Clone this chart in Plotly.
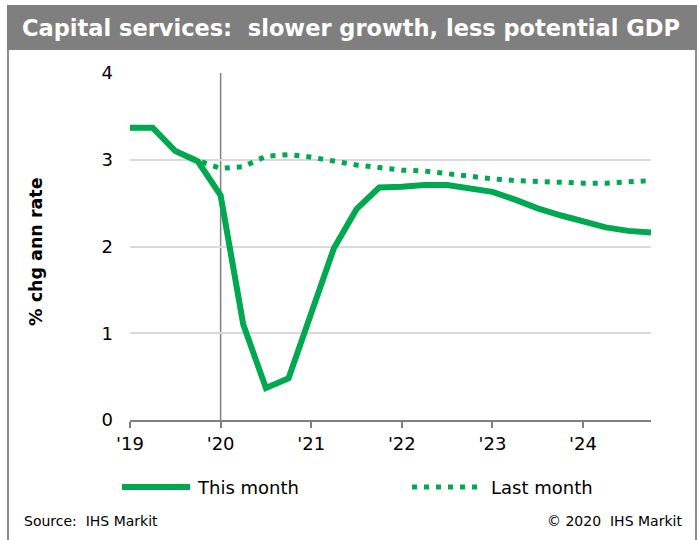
import plotly.graph_objects as go

# Quarterly periods, 2019Q1 .. 2024Q4, as fractional years
years = [2019, 2020, 2021, 2022, 2023, 2024]
quarters = [y + q / 4 for y in years for q in range(4)]

# Capital services, % change at annual rate
this_month = [3.37, 3.37, 3.10, 2.98, 2.59, 1.10, 0.37, 0.48,
              1.23, 1.98, 2.43, 2.68, 2.69, 2.71, 2.71, 2.67,
              2.63, 2.54, 2.44, 2.36, 2.29, 2.22, 2.18, 2.16]
last_month = [3.37, 3.37, 3.10, 2.99, 2.90, 2.92, 3.04, 3.06,
              3.03, 2.98, 2.94, 2.91, 2.88, 2.87, 2.84, 2.80,
              2.78, 2.76, 2.75, 2.73, 2.73, 2.73, 2.74, 2.76]

tick_vals = years
tick_text = ["'19", "'20", "'21", "'22", "'23", "'24"]
y_ticks = [0, 1, 2, 3, 4]

GREEN = "#00A84F"
GRID = "#D9D9D9"
AXIS = "#808080"
FONT = "DejaVu Sans, Liberation Sans, Arial, sans-serif"
DOT_DASH = "5px,7px"

W, H = 699, 540
L, R, T, B = 130, 48, 73, 120
PW, PH = W - L - R, H - T - B


def px(x):
    return (x - L) / PW


def py(y):
    return (H - B - y) / PH


fig = go.Figure()
fig.add_trace(go.Scatter(x=quarters, y=last_month, mode="lines", name="Last month",
                         line=dict(color=GREEN, width=5, dash=DOT_DASH)))
fig.add_trace(go.Scatter(x=quarters, y=this_month, mode="lines", name="This month",
                         line=dict(color=GREEN, width=6)))

shapes = [
    # marker for the start of 2020
    dict(type="line", xref="x", yref="y", x0=2020, x1=2020, y0=0, y1=4,
         line=dict(color=AXIS, width=1.5), layer="below"),
    # outer frame
    dict(type="line", xref="paper", yref="paper", x0=px(8), x1=px(8), y0=py(5), y1=py(545),
         line=dict(color="#8C8C8C", width=2)),
    dict(type="line", xref="paper", yref="paper", x0=px(696), x1=px(696), y0=py(5), y1=py(545),
         line=dict(color="#8C8C8C", width=2)),
    # title band
    dict(type="rect", xref="paper", yref="paper", x0=px(7), x1=px(697), y0=py(50), y1=py(5),
         fillcolor="#7F7F7F", line=dict(width=0)),
    # legend samples
    dict(type="line", xref="paper", yref="paper", x0=px(122), x1=px(190), y0=py(487), y1=py(487),
         line=dict(color=GREEN, width=6)),
    dict(type="line", xref="paper", yref="paper", x0=px(412), x1=px(480), y0=py(487), y1=py(487),
         line=dict(color=GREEN, width=5, dash=DOT_DASH)),
]

annotations = [
    dict(text="Capital services:  slower growth, less potential GDP", xref="paper", yref="paper",
         x=px(20), y=py(28), xanchor="left", yanchor="middle", showarrow=False,
         font=dict(family=FONT, size=22.5, color="white", weight="bold")),
    dict(text="% chg ann rate", xref="paper", yref="paper", x=px(36), y=py(252),
         xanchor="center", yanchor="middle", textangle=-90, showarrow=False,
         font=dict(family=FONT, size=17.5, color="black", weight="bold")),
    dict(text="This month", xref="paper", yref="paper", x=px(195), y=py(487),
         xanchor="left", yanchor="middle", showarrow=False,
         font=dict(family=FONT, size=18, color="black")),
    dict(text="Last month", xref="paper", yref="paper", x=px(489), y=py(487),
         xanchor="left", yanchor="middle", showarrow=False,
         font=dict(family=FONT, size=18, color="black")),
    dict(text="Source:  IHS Markit", xref="paper", yref="paper", x=px(22), y=py(521),
         xanchor="left", yanchor="middle", showarrow=False,
         font=dict(family=FONT, size=14, color="black")),
    dict(text="© 2020  IHS Markit", xref="paper", yref="paper", x=px(684), y=py(521),
         xanchor="right", yanchor="middle", showarrow=False,
         font=dict(family=FONT, size=14, color="black")),
]

fig.update_layout(
    width=W, height=H,
    margin=dict(l=L, r=R, t=T, b=B),
    paper_bgcolor="white", plot_bgcolor="white",
    showlegend=False,
    font=dict(family=FONT, size=18, color="black"),
    shapes=shapes, annotations=annotations,
    xaxis=dict(range=[2019, 2024.75], tickvals=tick_vals, ticktext=tick_text,
               showgrid=False, zeroline=False, showline=True, linecolor=AXIS, linewidth=2,
               ticks="outside", ticklen=6, tickwidth=2, tickcolor=AXIS,
               tickfont=dict(size=18, color="black")),
    yaxis=dict(range=[0, 4], tickvals=y_ticks, showgrid=True, gridcolor=GRID, gridwidth=1.5,
               zeroline=False, showline=False, ticks="", ticklabelstandoff=16,
               tickfont=dict(size=18, color="black")),
)

fig.write_html("out.html")
